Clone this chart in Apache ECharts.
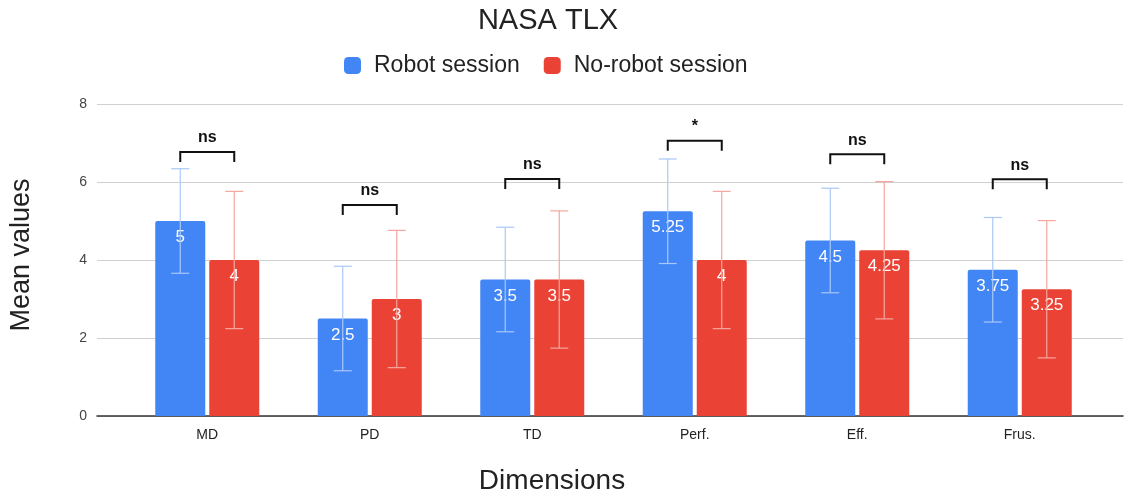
<!DOCTYPE html>
<html style="height: 100%">
<head>
    <meta charset="utf-8">
</head>
<body style="height: 100%; margin: 0; background: #fff">
<div id="main" style="width: 1132px; height: 498px"></div>
<script src="https://cdn.jsdelivr.net/npm/echarts@6/dist/echarts.min.js"></script>
<script type="text/javascript">
    // data
    var dimensions = ['MD', 'PD', 'TD', 'Perf.', 'Eff.', 'Frus.'];
    var robotMean = [5, 2.5, 3.5, 5.25, 4.5, 3.75];
    var noRobotMean = [4, 3, 3.5, 4, 4.25, 3.25];
    var robotErr = [1.34, 1.34, 1.34, 1.34, 1.34, 1.34];
    var noRobotErr = [1.76, 1.76, 1.76, 1.76, 1.76, 1.76];
    var sigLabel = ['ns', 'ns', 'ns', '*', 'ns', 'ns'];
    var sigLevel = [6.77, 5.41, 6.08, 7.06, 6.71, 6.07];
    var yTicks = [0, 2, 4, 6, 8];

    var fontFam = 'Arial, "Liberation Sans", sans-serif';
    var barW = 50;
    var half = 27; // distance from category centre to each bar centre

    var myChart = echarts.init(document.getElementById('main'));

    function errData(mean, err) {
        var out = [];
        for (var i = 0; i < mean.length; i++) {
            out.push([i, mean[i] - err[i], mean[i] + err[i]]);
        }
        return out;
    }

    function errRender(shift, color) {
        return function (params, api) {
            var lo = api.coord([api.value(0), api.value(1)]);
            var hi = api.coord([api.value(0), api.value(2)]);
            var x = lo[0] + shift;
            var cap = 9;
            var st = { stroke: color, lineWidth: 1.2 };
            return {
                type: 'group',
                children: [
                    { type: 'line', shape: { x1: x, y1: hi[1], x2: x, y2: lo[1] }, style: st },
                    { type: 'line', shape: { x1: x - cap, y1: hi[1], x2: x + cap, y2: hi[1] }, style: st },
                    { type: 'line', shape: { x1: x - cap, y1: lo[1], x2: x + cap, y2: lo[1] }, style: st }
                ]
            };
        };
    }

    var sigData = [];
    for (var i = 0; i < dimensions.length; i++) {
        sigData.push([i, sigLevel[i], sigLabel[i]]);
    }

    var option = {
        backgroundColor: '#fff',
        animation: false,
        title: {
            text: 'NASA TLX',
            left: 543,
            textAlign: 'center',
            top: 1,
            textStyle: { fontSize: 29, fontWeight: 'normal', color: '#222', fontFamily: fontFam }
        },
        legend: {
            data: ['Robot session', 'No-robot session'],
            left: 339,
            top: 49,
            icon: 'roundRect',
            itemWidth: 17,
            itemHeight: 17,
            itemGap: 24,
            textStyle: { fontSize: 23, color: '#222', fontFamily: fontFam, padding: [0, 0, 0, 8] }
        },
        graphic: [
            {
                type: 'text',
                x: 22, y: 255,
                rotation: Math.PI / 2,
                style: {
                    text: 'Mean values', fill: '#222', font: '27px ' + fontFam,
                    textAlign: 'center', textVerticalAlign: 'middle'
                }
            },
            {
                type: 'text',
                x: 552, y: 481,
                style: {
                    text: 'Dimensions', fill: '#222', font: '28px ' + fontFam,
                    textAlign: 'center', textVerticalAlign: 'middle'
                }
            }
        ],
        grid: [
            { left: 97, right: 9, top: 104, bottom: 82 },
            { left: 126, right: 31, top: 104, bottom: 82 }
        ],
        xAxis: [
            {
                gridIndex: 0, type: 'value', min: 0, max: 1,
                axisLabel: { show: false }, axisTick: { show: false },
                splitLine: { show: false },
                axisLine: { show: true, lineStyle: { color: '#333', width: 1.5 } }
            },
            {
                gridIndex: 1, type: 'category', data: dimensions,
                axisLine: { show: false }, axisTick: { show: false },
                axisLabel: { margin: 12, fontSize: 14, color: '#222', fontFamily: fontFam }
            }
        ],
        yAxis: [
            {
                gridIndex: 0, type: 'value', min: 0, max: 8, interval: 2,
                axisLine: { show: false }, axisTick: { show: false },
                axisLabel: {
                    margin: 10, fontSize: 14, color: '#444', fontFamily: fontFam,
                    formatter: function (v) { return yTicks.indexOf(v) >= 0 ? String(v) : ''; }
                },
                splitLine: { lineStyle: { color: '#d0d0d0', width: 1.2 } }
            },
            {
                gridIndex: 1, type: 'value', min: 0, max: 8, interval: 2,
                show: false
            }
        ],
        series: [
            {
                name: 'Robot session',
                type: 'bar',
                xAxisIndex: 1, yAxisIndex: 1,
                data: robotMean,
                barWidth: barW,
                barGap: '8%',
                itemStyle: { color: '#4285F4', borderRadius: [2, 2, 0, 0] },
                label: {
                    show: true, position: 'insideTop', distance: 8,
                    color: '#fff', fontSize: 17, fontFamily: fontFam
                }
            },
            {
                name: 'No-robot session',
                type: 'bar',
                xAxisIndex: 1, yAxisIndex: 1,
                data: noRobotMean,
                barWidth: barW,
                itemStyle: { color: '#EA4335', borderRadius: [2, 2, 0, 0] },
                label: {
                    show: true, position: 'insideTop', distance: 8,
                    color: '#fff', fontSize: 17, fontFamily: fontFam
                }
            },
            {
                type: 'custom',
                xAxisIndex: 1, yAxisIndex: 1,
                renderItem: errRender(-half, '#a9c8f8'),
                data: errData(robotMean, robotErr),
                z: 5, silent: true
            },
            {
                type: 'custom',
                xAxisIndex: 1, yAxisIndex: 1,
                renderItem: errRender(half, '#f4a69f'),
                data: errData(noRobotMean, noRobotErr),
                z: 5, silent: true
            },
            {
                type: 'custom',
                xAxisIndex: 1, yAxisIndex: 1,
                data: sigData,
                z: 6, silent: true,
                renderItem: function (params, api) {
                    var p = api.coord([api.value(0), api.value(1)]);
                    var x1 = p[0] - half, x2 = p[0] + half, y = p[1];
                    return {
                        type: 'group',
                        children: [
                            {
                                type: 'polyline',
                                shape: { points: [[x1, y + 10], [x1, y], [x2, y], [x2, y + 10]] },
                                style: { stroke: '#111', lineWidth: 2, fill: null }
                            },
                            {
                                type: 'text',
                                style: {
                                    x: p[0], y: y - 14,
                                    text: sigLabel[params.dataIndex],
                                    fill: '#111', font: 'bold 16px ' + fontFam,
                                    textAlign: 'center', textVerticalAlign: 'middle'
                                }
                            }
                        ]
                    };
                }
            }
        ]
    };

    myChart.setOption(option);
    window.addEventListener('resize', function () {
        myChart.resize();
    });
</script>
</body>
</html>
